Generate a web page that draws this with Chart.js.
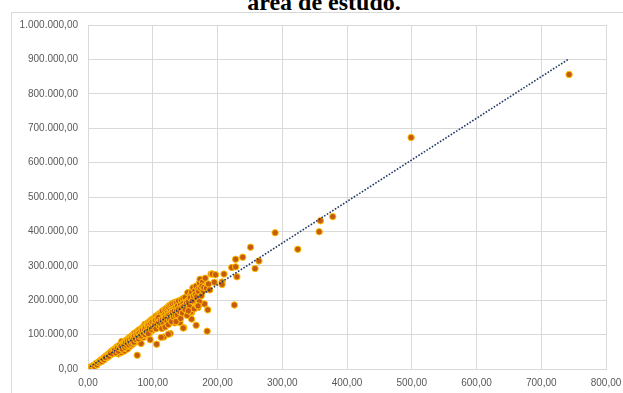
<!DOCTYPE html>
<html lang="pt-BR">
<head>
<meta charset="utf-8">
<title>Valor x área</title>
<script src="https://cdn.jsdelivr.net/npm/chart.js@4/dist/chart.umd.min.js"></script>
<style>
  html, body { margin: 0; padding: 0; background: #ffffff; overflow: hidden; }
  #wrap { position: relative; width: 623px; height: 393px; overflow: hidden; }
  #frame { position: absolute; left: 11px; top: 12px; width: 640px; height: 420px;
           border: 1px solid #D9D9D9; box-sizing: border-box; }
  #title { position: absolute; left: 0; width: 648px; top: -10px; text-align: center;
           font-family: "Liberation Serif", "Times New Roman", serif; font-weight: bold;
           font-size: 24px; line-height: 24px; color: #000; white-space: nowrap; }
  #box { position: absolute; left: 0; top: 0; width: 623px; height: 393px; }
</style>
</head>
<body>
<div id="wrap">
  <div id="frame"></div>
  <div id="title">área de estudo.</div>
  <div id="box"><canvas id="chart"></canvas></div>
</div>
<script>
// Área (eixo X) e valor (eixo Y) de cada imóvel
const areas = [
  3, 5, 6, 8, 9, 10, 12, 13, 14, 16, 17, 18, 20, 21, 22, 24, 25, 26, 28, 29,
  30, 31, 32, 33, 34, 35, 36, 37, 38, 39, 40, 41, 42, 43, 44, 45, 46, 47, 48, 49,
  50, 51, 52, 53, 54, 55, 56, 57, 58, 59, 60, 61, 62, 63, 64, 65, 66, 67, 68, 69,
  70, 71, 72, 73, 74, 75, 76, 77, 78, 79, 80, 81, 82, 83, 84, 85, 86, 87, 88, 89,
  90, 91, 92, 93, 94, 95, 96, 96, 97, 98, 99, 100, 101, 102, 103, 104, 105, 106, 106, 107,
  108, 109, 110, 111, 112, 113, 114, 115, 116, 116, 117, 118, 119, 120, 121, 122, 123, 124, 125, 126,
  127, 127, 128, 130, 131, 132, 133, 134, 135, 136, 137, 138, 139, 140, 141, 142, 143, 144, 145, 147,
  147, 148, 150, 151, 152, 154, 155, 156, 158, 160, 160, 160, 162, 163, 165, 166, 167, 167, 168, 170,
  170, 171, 172, 173, 174, 176, 177, 178, 180, 181, 182, 184, 185, 190, 192, 195, 197, 207, 207, 210,
  222, 226, 228, 228, 230, 239, 251, 258, 264, 289, 324, 357, 359, 378, 499, 743,
  27, 32, 35, 38, 41, 43, 45, 47, 49, 51, 53, 55, 57, 58, 60, 61, 63, 64, 66, 67,
  68, 70, 71, 72, 74, 75, 77, 78, 79, 80, 82, 83, 84, 86, 87, 88, 89, 90, 92, 93,
  94, 95, 97, 98, 99, 100, 102, 103, 104, 105, 107, 108, 109, 110, 112, 113, 114, 115, 117, 118,
  119, 120, 122, 123, 124, 125, 126, 128, 129, 130, 132, 133, 135, 136, 137, 138, 140, 142, 143, 145,
  146, 148, 150, 152, 153, 155, 157, 158, 159, 161, 163, 164, 166, 168, 169, 171, 172, 174, 175, 176,
  178, 179, 183, 186, 188, 124, 147, 113, 155, 170
];
const valores = [
  4000, 6500, 3500, 9000, 11000, 8000, 14000, 17000, 12000, 20000, 18000, 23000, 26000, 22000, 29000, 31000, 27000, 35000, 38000, 33000,
  41000, 36000, 44000, 39000, 48000, 42000, 51000, 45000, 54000, 47000, 57000, 50000, 60000, 53000, 63000, 55000, 66000, 44000, 58000, 70000,
  62000, 48000, 80000, 73000, 65000, 76000, 52000, 81000, 69000, 84000, 73000, 58000, 88000, 77000, 91000, 66000, 94000, 80000, 97000, 72000,
  100000, 86000, 104000, 78000, 95000, 108000, 40000, 90000, 112000, 84000, 115000, 99000, 74000, 118000, 104000, 122000, 92000, 125000, 130000, 110000,
  127000, 97000, 133000, 118000, 136000, 105000, 140000, 85000, 124000, 143000, 112000, 145000, 130000, 148000, 120000, 150000, 154000, 72000, 137000, 125000,
  157000, 143000, 160000, 132000, 162000, 148000, 165000, 169000, 125000, 152000, 93000, 172000, 158000, 175000, 140000, 178000, 163000, 181000, 150000, 185000,
  103000, 168000, 187000, 190000, 172000, 155000, 193000, 134000, 178000, 195000, 193000, 182000, 155000, 198000, 170000, 135000, 186000, 201000, 165000, 205000,
  190000, 120000, 208000, 178000, 195000, 222000, 200000, 185000, 215000, 224000, 164000, 145000, 236000, 205000, 228000, 195000, 241000, 127000, 215000, 179000,
  232000, 187000, 250000, 261000, 222000, 240000, 253000, 236000, 189000, 264000, 243000, 110000, 172000, 276000, 276000, 252000, 274000, 253000, 246000, 276000,
  295000, 186000, 297000, 319000, 268000, 325000, 354000, 292000, 314000, 396000, 348000, 399000, 431000, 443000, 673000, 856000,
  33000, 37000, 46000, 44000, 55000, 47000, 60000, 52000, 61000, 66000, 58000, 68000, 63000, 78000, 67000, 82000, 70000, 85000, 75000, 89000,
  80000, 93000, 78000, 96000, 86000, 100000, 98000, 88000, 105000, 95000, 110000, 96000, 113000, 102000, 116000, 100000, 121000, 108000, 125000, 103000,
  128000, 120000, 132000, 115000, 137000, 122000, 138000, 128000, 142000, 117000, 146000, 133000, 150000, 125000, 142000, 129000, 118000, 145000, 133000, 147000,
  122000, 151000, 138000, 156000, 129000, 158000, 145000, 162000, 138000, 166000, 152000, 168000, 156000, 138000, 171000, 158000, 173000, 166000, 147000, 178000,
  163000, 182000, 173000, 193000, 156000, 196000, 181000, 207000, 166000, 198000, 212000, 175000, 216000, 210000, 184000, 225000, 196000, 235000, 213000, 241000,
  228000, 237000, 235000, 247000, 230000, 101000, 119000, 92000, 169000, 183500
];

// Marcas dos eixos
const xTicks = [0, 100, 200, 300, 400, 500, 600, 700, 800];
const yTicks = [0, 100000, 200000, 300000, 400000, 500000, 600000, 700000, 800000, 900000, 1000000];

// Formato brasileiro: 1.000.000,00
function fmtBR(v) {
  const neg = v < 0;
  const s = Math.abs(v).toFixed(2);
  const [ip, dp] = s.split('.');
  const withDots = ip.replace(/\B(?=(\d{3})+(?!\d))/g, '.');
  return (neg ? '-' : '') + withDots + ',' + dp;
}

// Linha de tendência linear (mínimos quadrados) sobre os pontos
function linearTrend(xs, ys) {
  const n = xs.length;
  let sx = 0, sy = 0;
  for (let i = 0; i < n; i++) { sx += xs[i]; sy += ys[i]; }
  const mx = sx / n, my = sy / n;
  let sxy = 0, sxx = 0;
  for (let i = 0; i < n; i++) { sxy += (xs[i] - mx) * (ys[i] - my); sxx += (xs[i] - mx) ** 2; }
  const b = sxy / sxx, a = my - b * mx;
  const x0 = Math.min(...xs), x1 = Math.max(...xs);
  return [{ x: x0, y: a + b * x0 }, { x: x1, y: a + b * x1 }];
}

const points = areas.map((x, i) => ({ x, y: valores[i] }));
const trend = linearTrend(areas, valores);

const tickFont = { family: '"Liberation Sans", Arial, sans-serif', size: 10 };

new Chart(document.getElementById('chart'), {
  type: 'scatter',
  data: {
    datasets: [
      {
        label: 'Tendência',
        data: trend,
        showLine: true,
        borderColor: '#203864',
        borderWidth: 1.6,
        borderDash: [1.6, 1.6],
        borderCapStyle: 'butt',
        pointRadius: 0,
        fill: false,
        order: 0
      },
      {
        label: 'Valor',
        data: points,
        pointRadius: 3.2,
        pointBackgroundColor: '#C55A11',
        pointBorderColor: '#FFC000',
        pointBorderWidth: 1,
        order: 1
      }
    ]
  },
  options: {
    responsive: true,
    maintainAspectRatio: false,
    animation: false,
    events: [],
    layout: { padding: { left: 0, top: 25, right: 17, bottom: 0 } },
    plugins: { legend: { display: false }, tooltip: { enabled: false }, title: { display: false } },
    scales: {
      x: {
        type: 'linear',
        min: 0, max: 800,
        afterBuildTicks: s => { s.ticks = xTicks.map(v => ({ value: v })); },
        afterFit: s => { s.height = 24; s.paddingLeft = 0; s.paddingRight = 0; },
        grid: { color: '#D9D9D9', lineWidth: 1, drawTicks: false },
        border: { color: '#D9D9D9', width: 1 },
        ticks: { color: '#595959', font: tickFont, padding: 8, maxRotation: 0, callback: v => fmtBR(v) }
      },
      y: {
        type: 'linear',
        min: 0, max: 1000000,
        afterBuildTicks: s => { s.ticks = yTicks.map(v => ({ value: v })); },
        afterFit: s => { s.width = 88; s.paddingTop = 0; s.paddingBottom = 0; },
        grid: { color: '#D9D9D9', lineWidth: 1, drawTicks: false },
        border: { color: '#D9D9D9', width: 1 },
        ticks: { color: '#595959', font: tickFont, padding: 10, callback: v => fmtBR(v) }
      }
    }
  }
});
</script>
</body>
</html>
